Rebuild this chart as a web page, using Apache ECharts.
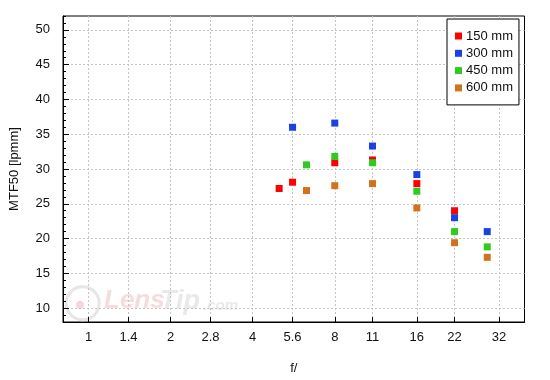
<!DOCTYPE html>
<html><head><meta charset="utf-8">
<script src="https://cdn.jsdelivr.net/npm/echarts@6/dist/echarts.min.js"></script>
<style>html,body{margin:0;padding:0;background:#fff}#c{width:550px;height:380px}</style>
</head><body><div id="c"></div>
<script>
const xTickLabels = ['1','1.4','2','2.8','4','5.6','8','11','16','22','32'];
const yTickValues = [10,15,20,25,30,35,40,45,50];
const seriesNames = ['150 mm','300 mm','450 mm','600 mm'];
const aperture150 = [5, 5.6, 8, 11, 16, 22];
const mtf150 = [27.2, 28.1, 30.9, 31.3, 27.9, 24.0];
const aperture300 = [5.6, 8, 11, 16, 22, 29];
const mtf300 = [36.0, 36.6, 33.3, 29.2, 23.0, 21.0];
const aperture450 = [6.3, 8, 11, 16, 22, 29];
const mtf450 = [30.6, 31.8, 30.9, 26.8, 21.0, 18.8];
const aperture600 = [6.3, 8, 11, 16, 22, 29];
const mtf600 = [26.9, 27.6, 27.9, 24.4, 19.4, 17.3];
const colors = ['#ff0000','#1a40e6','#2ecc1e','#d2711e'];

const FONT = '"Liberation Sans", Arial, sans-serif';
const apertures = [aperture150, aperture300, aperture450, aperture600];
const mtfs = [mtf150, mtf300, mtf450, mtf600];
const xTickPos = xTickLabels.map(s => Math.log2(parseFloat(s)));

const chart = echarts.init(document.getElementById('c'), null, {renderer: 'canvas'});
const gridLine = {show: true, lineStyle: {color: '#c4c4c4', type: [2, 2], width: 1}};

chart.setOption({
  animation: false,
  backgroundColor: '#fff',
  grid: {left: 61, right: 25.5, top: 16, bottom: 54.5, show: true, borderColor: '#000', borderWidth: 1, backgroundColor: 'transparent'},
  legend: {
    orient: 'vertical', left: 447, top: 19,
    data: seriesNames,
    icon: 'rect', itemWidth: 7, itemHeight: 7, itemGap: 4.3,
    padding: [10.5, 6, 10.5, 8],
    borderColor: '#000', borderWidth: 1, backgroundColor: '#fff',
    textStyle: {fontFamily: FONT, fontSize: 13, color: '#111', lineHeight: 13, padding: [0, 0, 0, -1]}
  },
  xAxis: {
    type: 'value', min: -0.312, max: 5.312,
    name: 'f/', nameLocation: 'middle', nameGap: 40,
    nameTextStyle: {fontFamily: FONT, fontSize: 13, color: '#111'},
    axisLine: {show: true, onZero: false, lineStyle: {color: '#000', width: 1}},
    axisTick: {show: true, inside: true, length: 5, customValues: xTickPos, lineStyle: {color: '#000'}},
    axisLabel: {
      customValues: xTickPos, margin: 9, fontFamily: FONT, fontSize: 13, color: '#111',
      formatter: v => { const i = xTickPos.findIndex(p => Math.abs(p - v) < 1e-6); return i >= 0 ? xTickLabels[i] : ''; }
    },
    splitLine: gridLine
  },
  yAxis: [{
    type: 'value', min: 8, max: 52,
    name: 'MTF50 [lpmm]', nameLocation: 'middle', nameGap: 42,
    nameTextStyle: {fontFamily: FONT, fontSize: 13, color: '#111'},
    axisLine: {show: true, onZero: false, lineStyle: {color: '#000', width: 1}},
    axisTick: {show: true, inside: true, length: 6, customValues: yTickValues, lineStyle: {color: '#000'}},
    axisLabel: {customValues: yTickValues, margin: 13, fontFamily: FONT, fontSize: 13, color: '#111'},
    splitLine: gridLine
  }, {
    type: 'value', min: 8, max: 52, interval: 1, position: 'left',
    axisLine: {show: false, onZero: false}, axisLabel: {show: false}, splitLine: {show: false},
    axisTick: {show: true, inside: true, length: 3, lineStyle: {color: '#000'}}
  }],
  graphic: [
    {type: 'circle', z: 0, shape: {cx: 82.7, cy: 303.3, r: 16.5}, style: {fill: 'none', stroke: '#e6e6e6', lineWidth: 3}},
    {type: 'circle', z: 0, shape: {cx: 80, cy: 305, r: 4}, style: {fill: '#f3d6d6'}},
    {type: 'text', z: 0, left: 104, top: 288, style: {text: 'Lens', font: 'italic bold 26px ' + FONT, fill: '#f6dcdc'}},
    {type: 'text', z: 0, left: 160, top: 288, style: {text: 'Tip', font: 'italic bold 27px ' + FONT, fill: '#e9e9e9'}},
    {type: 'text', z: 0, left: 203, top: 298, style: {text: '.com', font: 'italic bold 15px ' + FONT, fill: '#e9e9e9'}}
  ],
  series: seriesNames.map((name, k) => ({
    name, type: 'scatter', symbol: 'rect', symbolSize: 7,
    itemStyle: {color: colors[k], opacity: 1},
    data: apertures[k].map((f, i) => [Math.log2(f), mtfs[k][i]])
  }))
});
</script></body></html>
